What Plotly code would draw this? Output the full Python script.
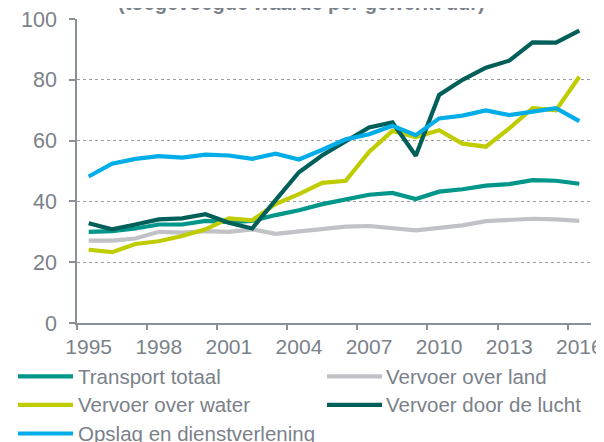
import plotly.graph_objects as go

years = list(range(1995, 2017))

transport_totaal = [30.0, 30.2, 31.1, 32.4, 32.4, 33.6, 33.2, 33.6, 35.5, 37.1, 39.1, 40.8, 42.2, 42.8, 40.8, 43.2, 44.0, 45.2, 45.7, 47.0, 46.8, 45.8]
vervoer_land = [27.1, 27.1, 27.8, 30.0, 29.7, 30.2, 30.0, 30.8, 29.3, 30.0, 30.8, 31.7, 31.9, 31.1, 30.5, 31.3, 32.1, 33.5, 33.9, 34.3, 34.1, 33.6]
vervoer_water = [24.1, 23.3, 26.0, 26.9, 28.6, 30.8, 34.4, 33.8, 39.1, 42.4, 46.1, 46.8, 56.3, 63.2, 61.2, 63.4, 59.0, 58.0, 64.0, 70.7, 70.0, 81.0]
vervoer_lucht = [32.8, 30.8, 32.4, 34.1, 34.4, 35.8, 33.0, 31.1, 40.4, 49.6, 55.2, 59.9, 64.3, 66.0, 55.0, 75.0, 80.0, 84.0, 86.3, 92.3, 92.2, 96.2]
opslag = [48.2, 52.4, 54.0, 54.9, 54.4, 55.4, 55.1, 54.0, 55.7, 53.8, 57.0, 60.4, 62.1, 64.9, 61.8, 67.3, 68.2, 69.9, 68.4, 69.5, 70.7, 66.4]

series_names = ["Transport totaal", "Vervoer over land", "Vervoer over water",
                "Vervoer door de lucht", "Opslag en dienstverlening"]
series_values = [transport_totaal, vervoer_land, vervoer_water, vervoer_lucht, opslag]
series_colors = ["#00968a", "#c0c2c6", "#bfcc00", "#005f59", "#00ade8"]

y_ticks = [0, 20, 40, 60, 80, 100]
x_tick_labels = [1995, 1998, 2001, 2004, 2007, 2010, 2013, 2016]
title_text = "(toegevoegde waarde per gewerkt uur)"

FONT = "Liberation Sans, Arial, sans-serif"
GREY_TXT = "#7b8189"
AXIS_COL = "#8a9098"

fig = go.Figure()
order = [1, 0, 2, 3, 4]
for i in order:
    fig.add_trace(go.Scatter(
        x=years, y=series_values[i], name=series_names[i], mode="lines",
        line=dict(color=series_colors[i], width=4.2), showlegend=False))

fig.add_trace(go.Scatter(x=[years[0]], y=[None], xaxis="x2", showlegend=False,
                         hoverinfo="skip", mode="lines"))

OFF = 8  # browser default body margin
W, H = 604 - OFF, 442 - OFF
# plot area in page pixels: x 77..591, y 19.3..322.7
L = 77 - OFF
T = 19.3 - OFF
pw = 514
ph = 303.4
R = W - L - pw
B = H - T - ph


def px(x):
    return (x - OFF - L) / pw


def py(y):
    return (T + ph - (y - OFF)) / ph


fig.update_layout(
    template="none",
    width=W, height=H,
    margin=dict(l=L, r=R, t=T, b=B, pad=0, autoexpand=False),
    paper_bgcolor="white", plot_bgcolor="white",
    font=dict(family=FONT, size=21, color=GREY_TXT),
    xaxis=dict(range=[1994.5, 2016.5], tickvals=x_tick_labels,
               ticktext=[str(v) for v in x_tick_labels], ticks="",
               ticklabelstandoff=4, ticklabeloverflow="allow",
               showgrid=False, zeroline=False, showline=True, automargin=False,
               linecolor=AXIS_COL, linewidth=1.5,
               tickfont=dict(size=21, color=GREY_TXT)),
    xaxis2=dict(range=[1994.5, 2016.5], overlaying="x", anchor="y", side="bottom",
                tickvals=[1994.5 + 3 * k for k in range(8)], ticks="outside",
                ticklen=6, tickwidth=1.5, tickcolor=AXIS_COL, automargin=False,
                showticklabels=False, showgrid=False, zeroline=False, showline=False),
    yaxis=dict(range=[0, 100], tickvals=y_ticks, ticks="outside", ticklen=6,
               tickwidth=1.5, tickcolor=AXIS_COL, automargin=False,
               ticklabelstandoff=8, ticklabeloverflow="allow",
               showgrid=True, gridcolor="#9a9ea4", griddash="dot", gridwidth=1,
               zeroline=False, showline=True, linecolor=AXIS_COL, linewidth=1.5,
               tickfont=dict(size=21.5, color=GREY_TXT)),
)

fig.add_annotation(text="<b>" + title_text + "</b>", xref="paper", yref="paper",
                   x=px(301), y=py(3), xanchor="center", yanchor="middle",
                   showarrow=False, font=dict(size=20, color=GREY_TXT, family=FONT))

col_line = [(18, 73), (327, 382)]
col_text = [76, 384]
row_y = [376, 404.5, 433]
for idx, name in enumerate(series_names):
    r, c = divmod(idx, 2)
    x0, x1 = col_line[c]
    yp = py(row_y[r])
    fig.add_shape(type="line", xref="paper", yref="paper",
                  x0=px(x0), x1=px(x1), y0=yp, y1=yp,
                  line=dict(color=series_colors[idx], width=4.2))
    fig.add_annotation(text=name, xref="paper", yref="paper",
                       x=px(col_text[c]), y=yp, xanchor="left", yanchor="middle",
                       showarrow=False, font=dict(size=20.5, color=GREY_TXT, family=FONT))

fig.write_html("out.html")
